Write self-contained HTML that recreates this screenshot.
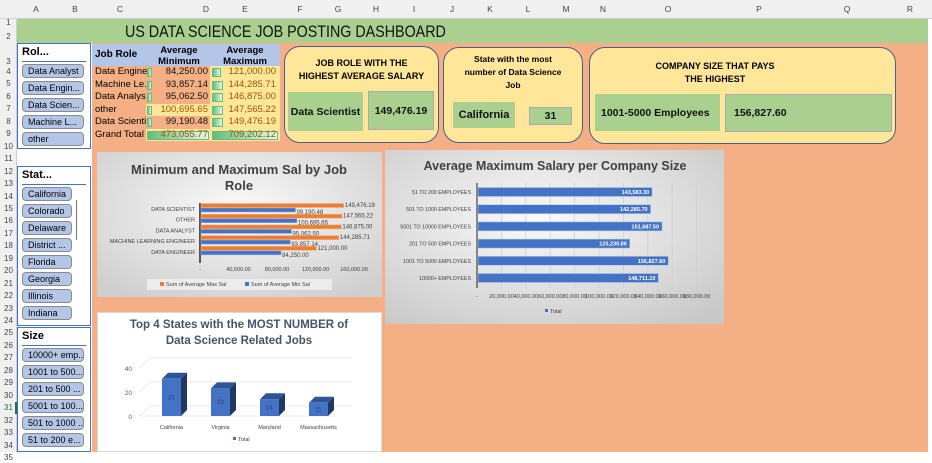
<!DOCTYPE html>
<html><head><meta charset="utf-8"><style>
*{box-sizing:border-box}
body{margin:0;width:932px;height:452px;overflow:hidden;background:#fff;font-family:"Liberation Sans",Calibri,sans-serif;position:relative}
.a{position:absolute}
.card{background:#ffe699;border:1.5px solid #4a5d8f;border-radius:16px}
.g{background:#a9d08e;font-weight:bold;font-size:10.5px;color:#111;display:flex;align-items:center}
.slicer{background:#fff;border:1.5px solid #4472c4}
.sb{position:absolute;left:4px;height:14px;background:#b4c6e7;border:1px solid #8a8a8a;border-radius:4px;font-size:9px;line-height:12px;padding-left:5px;white-space:nowrap;overflow:hidden}
.st{position:absolute;left:4px;top:2px;font-weight:bold;font-size:11px}
.tc{font-size:9.5px;height:12.5px;line-height:12.5px;white-space:nowrap;overflow:hidden}
</style></head><body>
<div class="a" style="left:92px;top:43px;width:836px;height:409px;background:#f4b084"></div>
<div class="a" style="left:17px;top:19px;width:911px;height:24px;background:#a9d08e"></div>
<div class="a" style="left:125px;top:20px;font-size:17px;line-height:24px;color:#111;transform:scaleX(0.84);transform-origin:0 0;white-space:nowrap">US DATA SCIENCE JOB POSTING DASHBOARD</div>
<div id="hdr"></div>

<div class="a" style="left:92px;top:44px;width:188px;height:22px;background:#b4c6e7"></div>
<div class="a" style="left:95px;top:49px;font-weight:bold;font-size:10px">Job Role</div>
<div class="a" style="left:148px;top:45px;width:62px;text-align:center;font-weight:bold;font-size:9.5px;line-height:11px">Average<br>Minimum</div>
<div class="a" style="left:212px;top:45px;width:66px;text-align:center;font-weight:bold;font-size:9.5px;line-height:11px">Average<br>Maximum</div>
<div id="tbl"></div>

<div class="a card" style="left:284px;top:46px;width:155px;height:97px"></div>
<div class="a" style="left:284px;top:57px;width:155px;text-align:center;font-weight:bold;font-size:9px;line-height:13px">JOB ROLE WITH THE<br>HIGHEST AVERAGE SALARY</div>
<div class="a g" style="left:288px;top:92px;width:75px;height:39px;justify-content:center">Data Scientist</div>
<div class="a g" style="left:368px;top:91px;width:66px;height:39px;justify-content:center;border:1px solid #aaa">149,476.19</div>

<div class="a card" style="left:443px;top:47px;width:140px;height:96px"></div>
<div class="a" style="left:443px;top:53px;width:140px;text-align:center;font-weight:bold;font-size:8.5px;line-height:13px">State with the most<br>number of Data Science<br>Job</div>
<div class="a g" style="left:453px;top:102px;width:62px;height:26px;justify-content:center;font-size:11px">California</div>
<div class="a g" style="left:529px;top:107px;width:43px;height:18px;justify-content:center;border:1px solid #aaa">31</div>

<div class="a card" style="left:589px;top:47px;width:307px;height:97px"></div>
<div class="a" style="left:640px;top:60px;width:150px;text-align:center;font-weight:bold;font-size:9px;line-height:13px">COMPANY SIZE THAT PAYS<br>THE HIGHEST</div>
<div class="a g" style="left:595px;top:94px;width:125px;height:37px;padding-left:6px">1001-5000 Employees</div>
<div class="a g" style="left:725px;top:94px;width:167px;height:38px;padding-left:8px;border:1px solid #aaa">156,827.60</div>

<div class="a slicer" style="left:17px;top:43px;width:74px;height:106px">
<div class="st">Rol...</div><div class="a" style="left:4px;top:17px;width:64px;border-top:1px solid #4472c4"></div>
<div class="sb" style="top:20px;width:62px">Data Analyst</div>
<div class="sb" style="top:37px;width:62px">Data Engin...</div>
<div class="sb" style="top:54px;width:62px">Data Scien...</div>
<div class="sb" style="top:71px;width:62px">Machine L...</div>
<div class="sb" style="top:88px;width:62px">other</div>
</div>
<div class="a slicer" style="left:17px;top:166px;width:74px;height:160px">
<div class="st">Stat...</div><div class="a" style="left:4px;top:17px;width:64px;border-top:1px solid #4472c4"></div>
<div class="a" style="left:81%;top:33px;width:1px;height:40px;background:#777"></div>
<div id="states"></div>
</div>
<div class="a slicer" style="left:17px;top:327px;width:74px;height:125px">
<div class="st">Size</div><div class="a" style="left:4px;top:17px;width:64px;border-top:1px solid #4472c4"></div>
<div id="sizes"></div>
</div>

<svg class="a" style="left:97px;top:152px" width="285" height="145">
<defs><radialGradient id="gg" cx="50%" cy="40%" r="70%"><stop offset="0" stop-color="#fafafa"/><stop offset="1" stop-color="#cfcfcf"/></radialGradient></defs>
<rect width="285" height="145" fill="url(#gg)"/>
<text x="142" y="22" text-anchor="middle" font-size="13" font-weight="bold" fill="#404040">Minimum and Maximum Sal by Job</text>
<text x="142" y="38" text-anchor="middle" font-size="13" font-weight="bold" fill="#404040">Role</text>
<g id="c1"></g></svg>

<svg class="a" style="left:385px;top:150px" width="339" height="174">
<defs><radialGradient id="g2" cx="45%" cy="40%" r="75%"><stop offset="0" stop-color="#fafafa"/><stop offset="1" stop-color="#c8c8c8"/></radialGradient></defs>
<rect width="339" height="174" fill="url(#g2)"/>
<text x="170" y="20" text-anchor="middle" font-size="12.5" font-weight="bold" fill="#404040">Average Maximum Salary per Company Size</text>
<g id="c2"></g></svg>

<svg class="a" style="left:97px;top:312px" width="285" height="140">
<rect x="0.5" y="0.5" width="284" height="139" fill="#fff" stroke="#d9d9d9"/>
<text x="142" y="16" text-anchor="middle" font-size="11.5" font-weight="bold" fill="#44546a">Top 4 States with the MOST NUMBER of</text>
<text x="142" y="32" text-anchor="middle" font-size="11.5" font-weight="bold" fill="#44546a">Data Science Related Jobs</text>
<g id="c3"></g></svg>

<script>
const roles=["Data Engine","Machine Le.","Data Analys","other","Data Scienti"];
const minVals=[84250.00,93857.14,95062.50,100695.65,99190.48];
const maxVals=[121000.00,144285.71,146875.00,147565.22,149476.19];
const c1Cats=["DATA SCIENTIST","OTHER","DATA ANALYST","MACHINE LEARNING ENGINEER","DATA ENGINEER"];
const c1Max=[149476.19,147565.22,146875.00,144285.71,121000.00];
const c1Min=[99190.48,100695.65,95062.50,93857.14,84250.00];
const c1Ticks=[0,40000,80000,120000,160000];
const c2Cats=["51 TO 200 EMPLOYEES","501 TO 1000 EMPLOYEES","5001 TO 10000 EMPLOYEES","201 TO 500 EMPLOYEES","1001 TO 5000 EMPLOYEES","10000+ EMPLOYEES"];
const c2Vals=[143583.30,142285.70,151687.50,125230.80,156827.60,148711.10];
const c2Ticks=[0,20000,40000,60000,80000,100000,120000,140000,160000,180000];
const c3Cats=["California","Virginia","Maryland","Massachusetts"];
const c3Vals=[31,23,14,11];
const c3Ticks=[0,20,40];
const states=["California","Colorado","Delaware","District ...","Florida","Georgia","Illinois","Indiana"];
const sizes=["10000+ emp...","1001 to 500...","201 to 500 ...","5001 to 100...","501 to 1000 ...","51 to 200 e..."];

const NS="http://www.w3.org/2000/svg";
function fmt(v){return v===0?"-":v.toLocaleString("en-US",{minimumFractionDigits:2,maximumFractionDigits:2});}
function el(p,t,a,txt){const e=document.createElementNS(NS,t);for(const k in a)e.setAttribute(k,a[k]);if(txt!=null)e.textContent=txt;p.appendChild(e);return e;}
function div(p,css,txt){const d=document.createElement("div");d.className="a";d.style.cssText=css;if(txt!=null)d.textContent=txt;p.appendChild(d);return d;}

const hdr=document.getElementById("hdr");
let h=div(hdr,"left:0;top:0;width:932px;height:19px;background:#f0f0f0;border-bottom:1px solid #d0d0d0");


const cx={A:36,B:75,C:120,D:206,E:245,F:300,G:338,H:376,I:414,J:452,K:490,L:528,M:566,N:603,O:668,P:759,Q:847,R:910};
for(const k in cx){div(hdr,"left:"+(cx[k]-10)+"px;top:0;width:20px;text-align:center;font-size:8.5px;line-height:19px;color:#444",k);}
const rh=div(hdr,"left:0;top:19px;width:17px;height:433px;background:#f0f0f0;border-right:1px solid #d0d0d0");


const rowY=[23,37,62];for(let i=4;i<=35;i++)rowY.push(72+(i-4)*12.45);
rowY.forEach((y,i)=>div(hdr,"left:0;top:"+(y-5)+"px;width:17px;text-align:center;font-size:8px;line-height:10px;color:"+(i===30?"#217346":"#444"),String(i+1)));
div(hdr,"left:15px;top:"+(rowY[30]-6)+"px;width:2px;height:12px;background:#217346");

const tbl=document.getElementById("tbl");
const rowsAll=roles.map((r,i)=>[r,minVals[i],maxVals[i]]);
rowsAll.push(["Grand Total",minVals.reduce((a,b)=>a+b,0),maxVals.reduce((a,b)=>a+b,0)]);
const gmax=Math.max(...rowsAll.slice(0,5).map(r=>r[2]));
rowsAll.forEach((r,i)=>{
 const y=66+i*12.5,tot=i===5;
 const hiMin=(i===3||tot);
 div(tbl,"left:92px;top:"+y+"px;width:55px;height:12.5px;background:#f4b084");
 div(tbl,"left:146px;top:"+y+"px;width:64px;height:12.5px;background:"+(hiMin?"#ffe699":"#f4b084"));
 div(tbl,"left:210px;top:"+y+"px;width:70px;height:12.5px;background:#ffe699");
 const c=div(tbl,"left:95px;top:"+y+"px;width:52px",r[0]);c.className+=" tc";
 
 
 const bw1=tot?62:Math.max(5,r[1]/gmax*7);
 div(tbl,"left:147px;top:"+(y+2)+"px;width:"+bw1+"px;height:9px;background:linear-gradient(90deg,#63be7b,#e6f4ea);border:1px solid #63be7b");
 const bw2=tot?66:Math.max(8,r[2]/gmax*11);
 div(tbl,"left:212px;top:"+(y+2)+"px;width:"+bw2+"px;height:9px;background:linear-gradient(90deg,#63be7b,#e6f4ea);border:1px solid #63be7b");
 const m=div(tbl,"left:146px;top:"+y+"px;width:62px;text-align:right;color:"+(hiMin?"#9c5700":"#111"),fmt(r[1]));m.className+=" tc";
 
 
 const x=div(tbl,"left:210px;top:"+y+"px;width:66px;text-align:right;color:#9c5700",fmt(r[2]));x.className+=" tc";
 
 
});

const sd=document.getElementById("states");
states.forEach((s,i)=>{const b=div(sd,"",s);b.className="sb";b.style.top=(20+i*17)+"px";b.style.width="50px";
 
 });
const zd=document.getElementById("sizes");
sizes.forEach((s,i)=>{const b=div(zd,"",s);b.className="sb";b.style.top=(20+i*17)+"px";b.style.width="62px";
 
 });

const g1=document.getElementById("c1");
const x1=v=>103+v*38.5/40000;
const y1=i=>56+i*10.7;
el(g1,"line",{x1:103,x2:103,y1:51,y2:111,stroke:"#555","stroke-width":2});
c1Cats.forEach((c,i)=>{
 el(g1,"text",{x:98,y:y1(i)+3,"text-anchor":"end","font-size":5.5,fill:"#404040"},c);
 let b=el(g1,"rect",{x:104,y:y1(i)-4.5,width:x1(c1Max[i])-104,height:4,fill:"#ed7d31",stroke:"#f4b183","stroke-width":0.6});
 
 
 b=el(g1,"rect",{x:104,y:y1(i),width:x1(c1Min[i])-104,height:4,fill:"#4472c4",stroke:"#8faadc","stroke-width":0.6});
 
 
 el(g1,"text",{x:x1(c1Max[i])+1,y:y1(i)-1,"font-size":6,fill:"#404040"},fmt(c1Max[i]));
 el(g1,"text",{x:x1(c1Min[i])+1,y:y1(i)+6,"font-size":6,fill:"#404040"},fmt(c1Min[i]));
});
c1Ticks.forEach(t=>el(g1,"text",{x:x1(t),y:119,"text-anchor":"middle","font-size":5.5,fill:"#404040"},fmt(t)));
el(g1,"rect",{x:50,y:127,width:185,height:11,fill:"#ececec"});
el(g1,"rect",{x:63,y:130,width:4,height:4,fill:"#ed7d31"});
el(g1,"text",{x:69,y:134,"font-size":5.5,fill:"#404040"},"Sum of Average Max Sal");
el(g1,"rect",{x:148,y:130,width:4,height:4,fill:"#4472c4"});
el(g1,"text",{x:154,y:134,"font-size":5.5,fill:"#404040"},"Sum of Average Min Sal");

const g2=document.getElementById("c2");
const x2=v=>92+v*24.4/20000;
const y2=i=>42+i*17.2;
c2Ticks.forEach(t=>{
 el(g2,"line",{x1:x2(t),x2:x2(t),y1:33,y2:138,stroke:t===0?"#444":"#d0d0d0","stroke-width":t===0?1.2:0.8});
 el(g2,"text",{x:x2(t),y:148,"text-anchor":"middle","font-size":5.5,fill:"#404040"},fmt(t));
});
c2Cats.forEach((c,i)=>{
 el(g2,"text",{x:86,y:y2(i)+2,"text-anchor":"end","font-size":5.3,fill:"#404040"},c);
 const b=el(g2,"rect",{x:93,y:y2(i)-4.5,width:x2(c2Vals[i])-93,height:9,fill:"#4472c4",stroke:"#b4c7e7","stroke-width":0.6});
 
 
 el(g2,"text",{x:x2(c2Vals[i])-3,y:y2(i)+2,"text-anchor":"end","font-size":5.5,"font-weight":"bold",fill:"#fff"},fmt(c2Vals[i]));
});
el(g2,"rect",{x:160,y:159,width:3,height:3,fill:"#4472c4"});
el(g2,"text",{x:165,y:163,"font-size":5.5,fill:"#404040"},"Total");

const g3=document.getElementById("c3");
const y3=v=>104-v*1.2;
const x3=i=>65+i*49;
c3Ticks.forEach(t=>{
 el(g3,"text",{x:35,y:y3(t)+3,"text-anchor":"end","font-size":6.5,fill:"#595959"},t);
 el(g3,"line",{x1:42,y1:y3(t),x2:54,y2:y3(t)-10,stroke:"#e0e0e0","stroke-width":0.7});
 el(g3,"line",{x1:54,y1:y3(t)-10,x2:255,y2:y3(t)-10,stroke:"#e0e0e0","stroke-width":0.7});
});
el(g3,"line",{x1:42,y1:y3(0),x2:240,y2:y3(0),stroke:"#e0e0e0","stroke-width":0.7});
c3Cats.forEach((c,i)=>{
 const x=x3(i),top=y3(c3Vals[i]),w=19,d=6;
 el(g3,"polygon",{points:`${x},${top} ${x+d},${top-d} ${x+w+d},${top-d} ${x+w},${top}`,fill:"#2f5597"});
 el(g3,"polygon",{points:`${x+w},${top} ${x+w+d},${top-d} ${x+w+d},${y3(0)-d} ${x+w},${y3(0)}`,fill:"#203864"});
 const b=el(g3,"rect",{x:x,y:top,width:w,height:y3(0)-top,fill:"#4472c4"});
 
 
 el(g3,"text",{x:x+w/2,y:(top+y3(0))/2+2,"text-anchor":"middle","font-size":6,fill:"#2f3f6f"},c3Vals[i]);
 el(g3,"text",{x:x+w/2,y:117,"text-anchor":"middle","font-size":5.5,fill:"#404040"},c);
});
el(g3,"rect",{x:136,y:125,width:3,height:3,fill:"#4472c4"});
el(g3,"text",{x:141,y:129,"font-size":5.5,fill:"#404040"},"Total");
</script>
</body></html>
